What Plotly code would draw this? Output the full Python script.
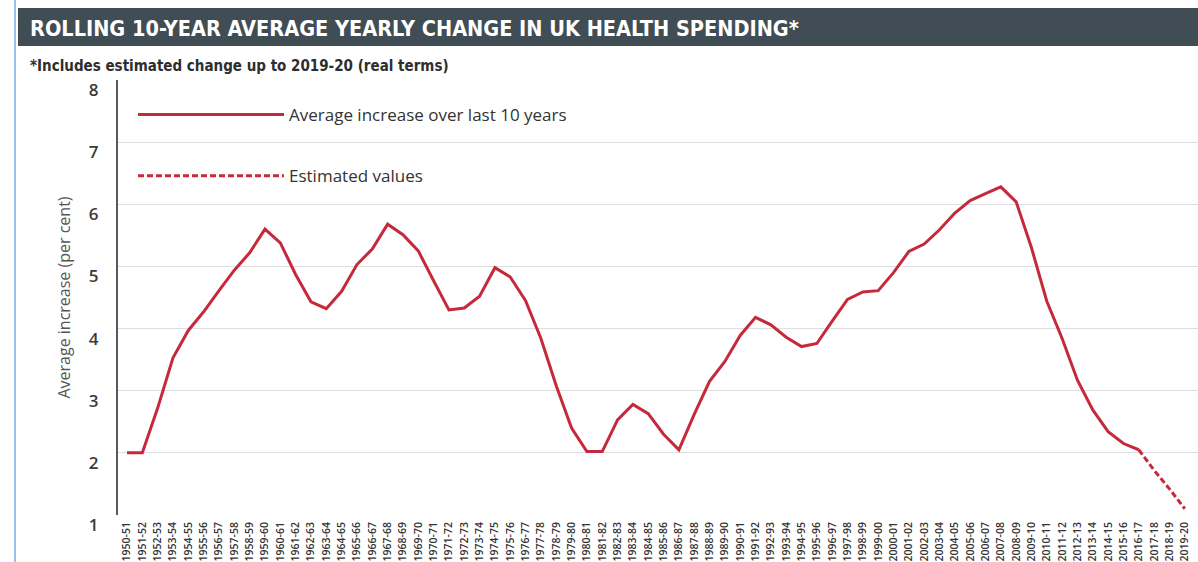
import plotly.graph_objects as go

# ---------------- data ----------------
categories = [f"{y}-{(y + 1) % 100:02d}" for y in range(1950, 2020)]

actual_values = [
    2.00, 2.00, 2.72, 3.53, 3.97, 4.27, 4.61, 4.94, 5.22, 5.60,
    5.38, 4.87, 4.43, 4.32, 4.60, 5.03, 5.28, 5.68, 5.51, 5.25,
    4.77, 4.30, 4.33, 4.52, 4.98, 4.83, 4.45, 3.84, 3.08, 2.40,
    2.02, 2.02, 2.53, 2.78, 2.63, 2.30, 2.05, 2.62, 3.15, 3.47,
    3.89, 4.18, 4.06, 3.86, 3.71, 3.76, 4.12, 4.47, 4.59, 4.61,
    4.90, 5.24, 5.36, 5.59, 5.86, 6.06, 6.17, 6.28, 6.04, 5.30,
    4.44, 3.84, 3.17, 2.69, 2.34, 2.15, 2.05,
]
estimated_categories = ["2016-17", "2017-18", "2018-19", "2019-20"]
estimated_values = [2.05, 1.72, 1.42, 1.10]

y_ticks = [1, 2, 3, 4, 5, 6, 7, 8]

title_text = "ROLLING 10-YEAR AVERAGE YEARLY CHANGE IN UK HEALTH SPENDING*"
subtitle_text = "*Includes estimated change up to 2019-20 (real terms)"
y_title = "Average increase (per cent)"

RED = "#c52a3b"
COND = "DejaVu Sans Condensed, Liberation Sans, sans-serif"

# ---------------- geometry helpers ----------------
W, H = 1198, 562
ML, MR, MT, MB = 118, 0, 80, 47
PW = W - ML - MR
PH = H - MT - MB


def px_x(px):
    return (px - ML) / PW


def px_y(py):
    return (H - MB - py) / PH


fig = go.Figure()

fig.add_trace(go.Scatter(
    x=categories[:len(actual_values)], y=actual_values,
    mode="lines", name="Average increase over last 10 years",
    line=dict(color=RED, width=3), legendgroup="a",
))
fig.add_trace(go.Scatter(
    x=estimated_categories, y=estimated_values,
    mode="lines", name="Estimated values",
    line=dict(color=RED, width=3, dash="6px,3px"), legendgroup="b",
))

sp = PW / 70.45
x0 = -(127 - ML) / sp

fig.update_layout(
    width=W, height=H,
    margin=dict(l=ML, r=MR, t=MT, b=MB),
    paper_bgcolor="white", plot_bgcolor="white",
    showlegend=True,
    legend=dict(
        x=px_x(133), y=px_y(97), xanchor="left", yanchor="top",
        font=dict(family="Open Sans", size=17, color="#333"),
        itemwidth=146, tracegroupgap=36, traceorder="grouped",
        bgcolor="rgba(0,0,0,0)",
    ),
    xaxis=dict(
        type="category", categoryorder="array", categoryarray=categories,
        range=[x0, x0 + 70.45],
        tickmode="array", tickvals=categories, ticktext=categories,
        tickangle=-90, showgrid=False, showline=False, zeroline=False,
        ticks="", ticklabelstandoff=4, automargin=False,
        tickfont=dict(family="Open Sans", size=10.5, color="#333", weight=600),
    ),
    yaxis=dict(
        range=[1, 8], tickmode="array", tickvals=y_ticks,
        showgrid=True, gridcolor="#dedede", gridwidth=1,
        showline=True, linecolor="#5a5a5a", linewidth=2,
        zeroline=False, ticks="", ticklabelstandoff=14, ticklabelshift=10,
        automargin=False,
        tickfont=dict(family="Open Sans", size=17, color="#3a3a3a", weight=600),
        title=dict(text=y_title, standoff=14,
                   font=dict(family="Open Sans", size=16, color="#555")),
    ),
    title=dict(
        text=title_text, x=30 / W, xanchor="left", xref="container",
        y=1 - 28 / H, yanchor="middle", yref="container",
        font=dict(family=COND, size=21.5, color="white", weight="bold"),
    ),
    shapes=[
        dict(type="rect", xref="paper", yref="paper",
             x0=px_x(18), x1=px_x(W + 2), y0=px_y(46), y1=px_y(8),
             fillcolor="#414d54", line=dict(width=0), layer="below"),
        dict(type="line", xref="paper", yref="paper",
             x0=px_x(15), x1=px_x(15), y0=px_y(0), y1=px_y(H),
             line=dict(color="#9cc0f0", width=2)),
    ],
    annotations=[
        dict(text=subtitle_text, xref="paper", yref="paper",
             x=px_x(28), y=px_y(66), xanchor="left", yanchor="middle",
             showarrow=False,
             font=dict(family=COND, size=15, color="#2e2e2e", weight="bold")),
    ],
)

fig.write_html("out.html")
